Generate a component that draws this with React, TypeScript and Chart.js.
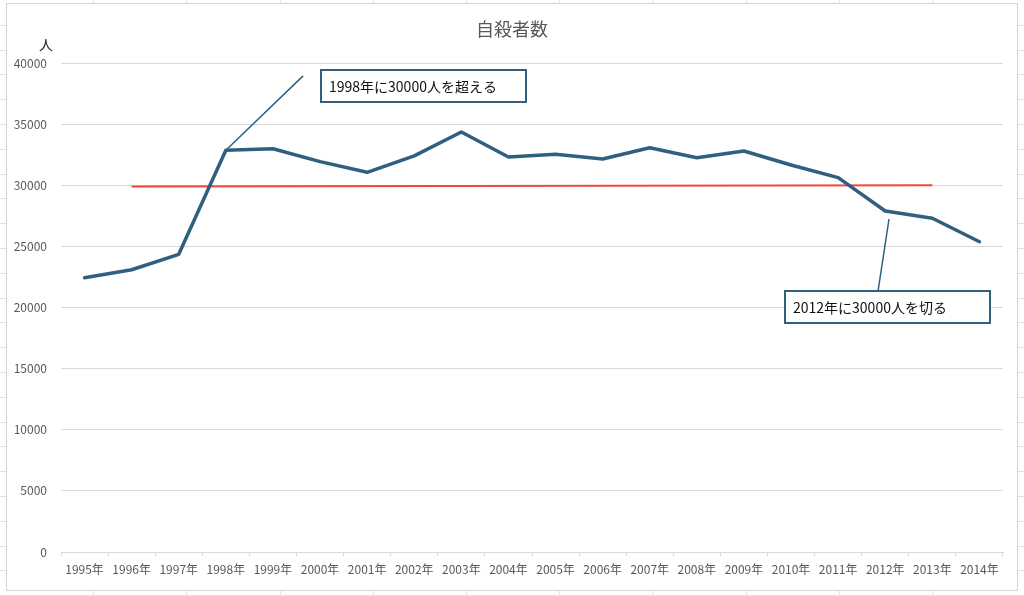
import React, { useEffect, useRef } from "react";
import { Chart, registerables } from "chart.js";

Chart.register(...registerables);

const years = [
  "1995年", "1996年", "1997年", "1998年", "1999年", "2000年", "2001年", "2002年", "2003年", "2004年",
  "2005年", "2006年", "2007年", "2008年", "2009年", "2010年", "2011年", "2012年", "2013年", "2014年",
];
const suicides = [
  22440, 23090, 24350, 32860, 32990, 31930, 31060, 32400, 34360, 32310,
  32530, 32150, 33070, 32250, 32800, 31660, 30620, 27890, 27300, 25380,
];
const thresholdLine = [
  null, 29900, null, null, null, null, null, null, null, null,
  null, null, null, null, null, null, null, null, 30000, null,
];
const yMin = 0;
const yMax = 40000;
const yStep = 5000;

const chartTitle = "自殺者数";
const yUnit = "人";

// callouts: text, leader start (index, value), leader end (index, value), box top-left (index, value)
const calloutTexts = ["1998年に30000人を超える", "2012年に30000人を切る"];
const calloutLeaderStart = [[3, 32860], [17.08, 27240]];
const calloutLeaderEnd = [[4.64, 38950], [16.85, 21430]];
const calloutBoxAt = [[5.0, 39500], [14.85, 21430]];

const FONT = '"Noto Sans CJK JP", "Noto Sans", sans-serif';
const LINE_BLUE = "#30607f";

const sheetPlugin = {
  id: "sheet",
  beforeDraw(chart: any) {
    const { ctx, width, height } = chart;
    ctx.save();
    ctx.fillStyle = "#ffffff";
    ctx.fillRect(0, 0, width, height);
    ctx.strokeStyle = "#e2e2e2";
    ctx.lineWidth = 1;
    for (let x = 93.2; x < width; x += 93.2) {
      ctx.beginPath();
      ctx.moveTo(Math.round(x) + 0.5, 0);
      ctx.lineTo(Math.round(x) + 0.5, height);
      ctx.stroke();
    }
    for (let y = 24.8; y < height; y += 24.8) {
      ctx.beginPath();
      ctx.moveTo(0, Math.round(y) + 0.5);
      ctx.lineTo(width, Math.round(y) + 0.5);
      ctx.stroke();
    }
    // chart frame
    ctx.fillStyle = "#ffffff";
    ctx.fillRect(6, 3, 1011, 587);
    ctx.strokeStyle = "#d4d4d4";
    ctx.strokeRect(6.5, 3.5, 1011, 587);
    // title
    ctx.fillStyle = "#595959";
    ctx.font = `18px ${FONT}`;
    ctx.textAlign = "center";
    ctx.textBaseline = "middle";
    ctx.fillText(chartTitle, 512, 29);
    // unit
    ctx.fillStyle = "#222222";
    ctx.font = `14px ${FONT}`;
    ctx.fillText(yUnit, 46, 45);
    ctx.restore();
  },
  afterDatasetsDraw(chart: any) {
    const { ctx } = chart;
    const xs = chart.scales.x;
    const ys = chart.scales.y;
    ctx.save();
    calloutTexts.forEach((text, i) => {
      const sx = xs.getPixelForValue(calloutLeaderStart[i][0]);
      const sy = ys.getPixelForValue(calloutLeaderStart[i][1]);
      const ex = xs.getPixelForValue(calloutLeaderEnd[i][0]);
      const ey = ys.getPixelForValue(calloutLeaderEnd[i][1]);
      ctx.strokeStyle = LINE_BLUE;
      ctx.lineWidth = 1.5;
      ctx.beginPath();
      ctx.moveTo(sx, sy);
      ctx.lineTo(ex, ey);
      ctx.stroke();
      const bx = Math.round(xs.getPixelForValue(calloutBoxAt[i][0]));
      const by = Math.round(ys.getPixelForValue(calloutBoxAt[i][1]));
      const bw = 207;
      const bh = 34;
      ctx.fillStyle = "#ffffff";
      ctx.fillRect(bx, by, bw, bh);
      ctx.strokeStyle = LINE_BLUE;
      ctx.lineWidth = 2;
      ctx.strokeRect(bx + 1, by + 1, bw - 2, bh - 2);
      ctx.fillStyle = "#111111";
      ctx.font = `14px ${FONT}`;
      ctx.textAlign = "left";
      ctx.textBaseline = "middle";
      ctx.fillText(text, bx + 9, by + bh / 2 + 1);
    });
    ctx.restore();
  },
};

export default function App() {
  const ref = useRef<HTMLCanvasElement | null>(null);
  useEffect(() => {
    document.body.style.margin = "0";
    const canvas = ref.current!;
    const chart = new Chart(canvas, {
      type: "line",
      data: {
        labels: years,
        datasets: [
          {
            label: "自殺者数",
            data: suicides,
            borderColor: LINE_BLUE,
            borderWidth: 3.5,
            pointRadius: 0,
            tension: 0,
            borderJoinStyle: "round",
            borderCapStyle: "round",
            fill: false,
          },
          {
            label: "30000人",
            data: thresholdLine as any,
            borderColor: "#f0473a",
            borderWidth: 2,
            pointRadius: 0,
            spanGaps: true,
            tension: 0,
            fill: false,
          },
        ],
      },
      options: {
        animation: false,
        responsive: false,
        layout: { padding: { left: 6, right: 21, top: 63, bottom: 6 } },
        plugins: {
          legend: { display: false },
          title: { display: false },
          tooltip: { enabled: false },
        },
        scales: {
          x: {
            offset: true,
            grid: {
              offset: true,
              drawOnChartArea: false,
              drawTicks: true,
              tickLength: 4,
              color: "#d9d9d9",
            },
            border: { display: true, color: "#d9d9d9" },
            ticks: {
              color: "#595959",
              font: { family: FONT, size: 12 },
              padding: 6,
              maxRotation: 0,
              autoSkip: false,
            },
            afterFit(scale: any) {
              scale.height = 38;
            },
          },
          y: {
            min: yMin,
            max: yMax,
            grid: { color: "#d9d9d9", drawTicks: false },
            border: { display: false },
            ticks: {
              stepSize: yStep,
              color: "#595959",
              font: { family: FONT, size: 12 },
              padding: 14,
              callback: (v: any) => String(v),
            },
            afterFit(scale: any) {
              scale.width = 55;
            },
          },
        },
      },
      plugins: [sheetPlugin],
    });
    return () => chart.destroy();
  }, []);
  return <canvas ref={ref} width={1024} height={596} style={{ display: "block" }} />;
}
